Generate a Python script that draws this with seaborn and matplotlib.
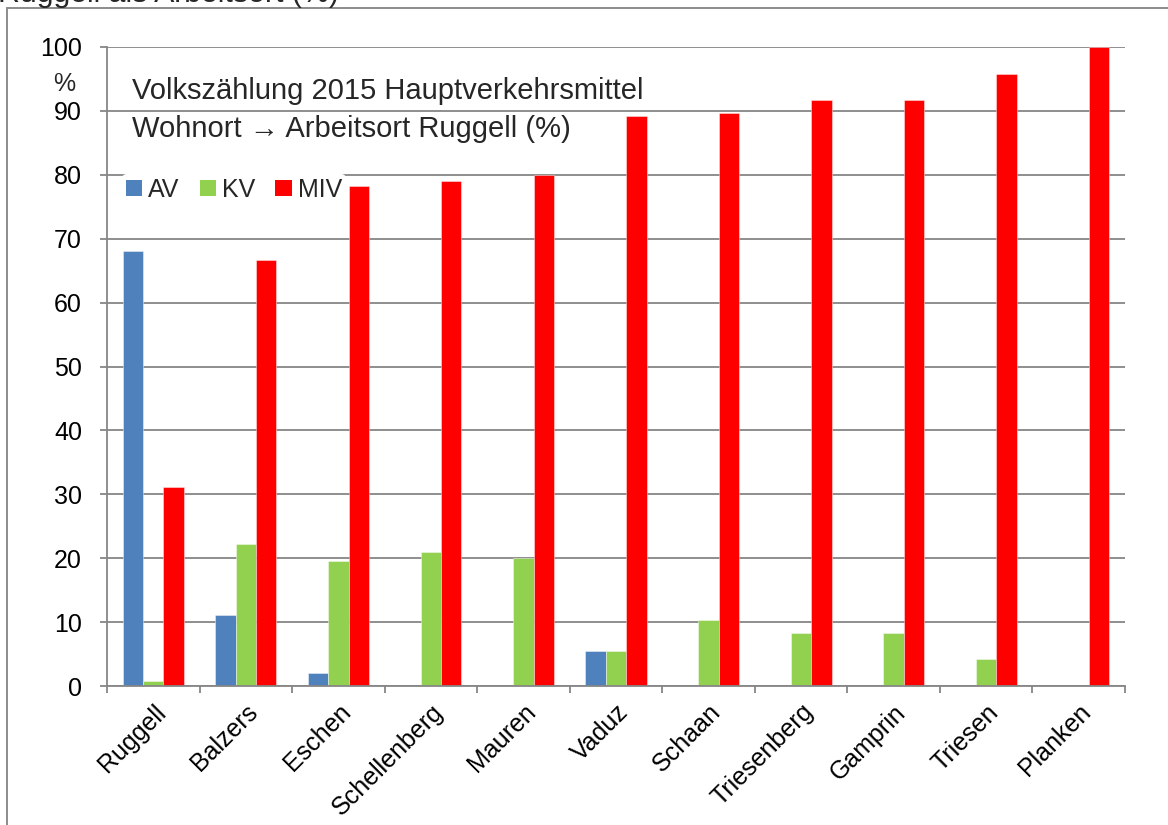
import matplotlib
matplotlib.use("Agg")
import matplotlib.pyplot as plt
from matplotlib.patches import Patch, Rectangle
import seaborn as sns
import pandas as pd

# ---- data ----
categories = ["Ruggell", "Balzers", "Eschen", "Schellenberg", "Mauren", "Vaduz",
              "Schaan", "Triesenberg", "Gamprin", "Triesen", "Planken"]
av = [68.0, 11.1, 2.1, 0.0, 0.0, 5.4, 0.0, 0.0, 0.0, 0.0, 0.0]
kv = [0.8, 22.2, 19.6, 21.0, 20.0, 5.4, 10.3, 8.3, 8.3, 4.2, 0.0]
miv = [31.1, 66.7, 78.3, 79.0, 80.0, 89.2, 89.7, 91.7, 91.7, 95.8, 100.0]
series = ["AV", "KV", "MIV"]
colors = ["#4F81BD", "#92D050", "#FF0000"]
yticks = [0, 10, 20, 30, 40, 50, 60, 70, 80, 90, 100]
title_lines = ["Volkszählung 2015 Hauptverkehrsmittel",
               "Wohnort \u2192 Arbeitsort Ruggell (%)"]
top_text = "Ruggell als Arbeitsort (%)"

df = pd.DataFrame({
    "Gemeinde": categories * 3,
    "Modus": ["AV"] * len(categories) + ["KV"] * len(categories) + ["MIV"] * len(categories),
    "Wert": av + kv + miv,
})

sns.set_theme(style="white")
plt.rcParams["font.family"] = ["Liberation Sans", "DejaVu Sans"]

W, H = 1168, 825
fig = plt.figure(figsize=(W / 100, H / 100), dpi=100)
ax = fig.add_axes([107 / W, 1 - 686 / H, (1125 - 107) / W, (686 - 47) / H])

sns.barplot(data=df, x="Gemeinde", y="Wert", hue="Modus", hue_order=series,
            palette=colors, width=0.66, ax=ax, legend=False,
            edgecolor=(1, 1, 1, 0.5), linewidth=0.6, saturation=1)

grid_col = "#868686"
ax.set_xlim(-0.5, len(categories) - 0.5)
ax.set_ylim(0, 100)
ax.set_yticks(yticks)
ax.set_yticklabels([str(t) for t in yticks], fontsize=18)
ax.yaxis.grid(True, color=grid_col, linewidth=1.3)
ax.set_axisbelow(True)
ax.tick_params(axis="y", which="major", direction="out", length=5, width=1.3,
               color=grid_col, pad=13, labelcolor="black", left=True)

ax.set_xticks(range(len(categories)))
ax.set_xticklabels(categories, rotation=45, ha="right", rotation_mode="anchor",
                   fontsize=18)
ax.tick_params(axis="x", which="major", length=0, pad=10, labelcolor="black")
ax.set_xticks([i - 0.5 for i in range(len(categories) + 1)], minor=True)
ax.tick_params(axis="x", which="minor", direction="out", length=5, width=1.3,
               color=grid_col, bottom=True)

ax.set_xlabel("")
ax.set_ylabel("")
for s in ["top", "right"]:
    ax.spines[s].set_visible(False)
for s in ["left", "bottom"]:
    ax.spines[s].set_color(grid_col)
    ax.spines[s].set_linewidth(1.3)

# "%" unit label
fig.text(64 / W, 1 - 84 / H, "%", fontsize=18, ha="center", va="center")

# title lines with white background
for line, base in zip(title_lines, [99, 137]):
    fig.text(132 / W, 1 - base / H, line, fontsize=21, ha="left", va="baseline",
             bbox=dict(facecolor="white", edgecolor="none", pad=1), zorder=5)

# legend
handles = [Patch(facecolor=c, edgecolor="none", label=l) for c, l in zip(colors, series)]
leg = ax.legend(handles=handles, loc="upper left", bbox_to_anchor=(122 / W, 1 - 174 / H),
                bbox_transform=fig.transFigure,
                ncol=3, frameon=True, fontsize=18, handlelength=0.65, handleheight=0.65,
                handletextpad=0.25, columnspacing=0.8, borderpad=0.15, borderaxespad=0)
leg.get_frame().set_facecolor("white")
leg.get_frame().set_edgecolor("none")
leg.get_frame().set_alpha(1)

# outer frame
fig.patches.append(Rectangle((7 / W, -0.05), 1.1, 1 - 8 / H + 0.05,
                             transform=fig.transFigure, fill=False,
                             edgecolor="#8c8c8c", linewidth=1.4))

# cut-off top text
fig.text(-2 / W, 1 - 2 / H, top_text, fontsize=21.8, ha="left", va="baseline")

fig.savefig("out.png", dpi=100)
